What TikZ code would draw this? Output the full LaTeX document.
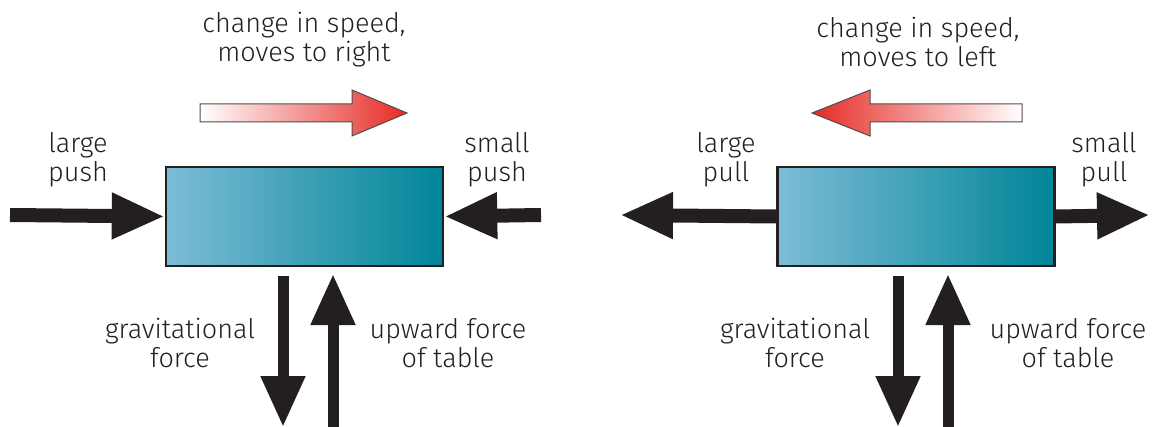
\documentclass[tikz,border=0pt]{standalone}
\usepackage{fontspec}
\setmainfont{Fira Sans Light}
\usetikzlibrary{arrows.meta}
\definecolor{ink}{HTML}{231F20}
\definecolor{blockL}{HTML}{7DBCD6}
\definecolor{blockR}{HTML}{008598}
\definecolor{hot}{HTML}{E62A24}
\definecolor{warm}{HTML}{F28C6A}
\tikzset{
  x=1pt, y=-1pt,
  label/.style={text=ink, font=\fontsize{27}{29}\selectfont, align=center, inner sep=0pt},
  block/.style={draw=ink, line width=2.5pt, minimum width=277pt, minimum height=99pt,
    inner sep=0pt, left color=blockL, right color=blockR},
  force/.style={draw=ink, line width=14pt, -{Triangle[width=43pt,length=53pt]}},
  vforce/.style={draw=ink, line width=11pt, -{Triangle[width=42pt,length=51pt]}},
  motion/.style={draw=ink!80, line width=1pt},
}
\begin{document}
\begin{tikzpicture}
\useasboundingbox (0,0) rectangle (1158,427);

% ---------- left: pushes ----------
\node[label] (titleA) at (304,40) {change in speed,\\moves to right};
\shade[motion, left color=white, middle color=warm, right color=hot]
  (200,104) -- (352,104) -- (352,90) -- (407,113) -- (352,136) -- (352,122) -- (200,122) -- cycle;
\node[block] (boxA) at (304.5,216.5) {};
\node[label] (largeA) at (78,160) {large\\push};
\node[label] (smallA) at (497,160) {small\\push};
\coordinate (pushL) at (10,215);
\coordinate (pushR) at (541,215);
\draw[force] (pushL) -- (boxA.west);
\draw[force] (pushR) -- (boxA.east);
\coordinate (gA1) at (283,276);
\coordinate (gA2) at (283,427);
\coordinate (uA1) at (333,427);
\coordinate (uA2) at (333,274);
\draw[vforce] (gA1) -- (gA2);
\draw[vforce] (uA1) -- (uA2);
\node[label] (gravA) at (180,343) {gravitational\\force};
\node[label] (upA) at (448,343) {upward force\\of table};

% ---------- right: pulls ----------
\node[label] (titleB) at (918,42) {change in speed,\\moves to left};
\shade[motion, left color=hot, middle color=warm, right color=white]
  (1022,104) -- (870,104) -- (870,90) -- (812,113) -- (870,136) -- (870,122) -- (1022,122) -- cycle;
\node[block] (boxB) at (916,216.5) {};
\node[label] (largeB) at (726,160) {large\\pull};
\node[label] (smallB) at (1104,160) {small\\pull};
\coordinate (pullL) at (620,215);
\coordinate (pullR) at (1150,215);
\draw[force] (boxB.west) -- (pullL);
\draw[force] (boxB.east) -- (pullR);
\coordinate (gB1) at (898,276);
\coordinate (gB2) at (898,427);
\coordinate (uB1) at (948,427);
\coordinate (uB2) at (948,274);
\draw[vforce] (gB1) -- (gB2);
\draw[vforce] (uB1) -- (uB2);
\node[label] (gravB) at (795,343) {gravitational\\force};
\node[label] (upB) at (1068,343) {upward force\\of table};
\end{tikzpicture}
\end{document}
